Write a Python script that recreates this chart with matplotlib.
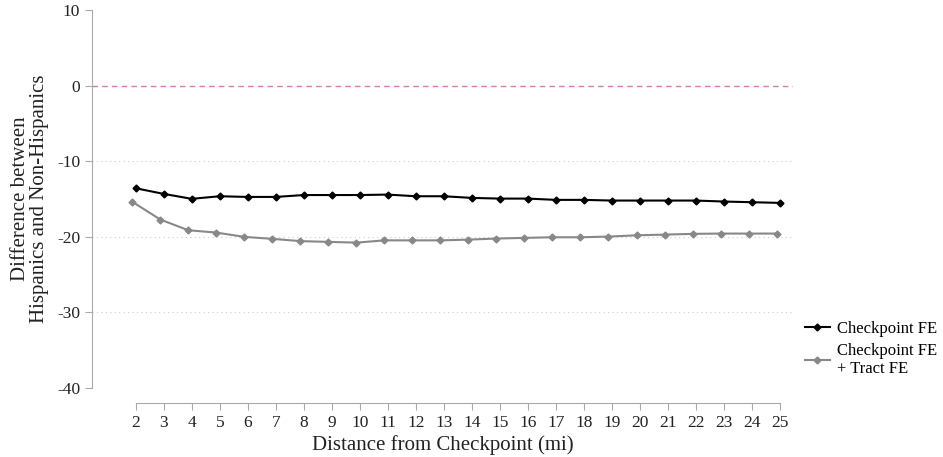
import matplotlib.pyplot as plt

plt.rcParams['font.family'] = ['Liberation Serif', 'DejaVu Serif']
plt.rcParams['axes.unicode_minus'] = False

distance = list(range(2, 26))
checkpoint_fe = [-13.6, -14.35, -15.0, -14.66, -14.75, -14.75, -14.5, -14.5, -14.5, -14.44,
                 -14.66, -14.66, -14.88, -14.97, -14.97, -15.14, -15.14, -15.23, -15.23,
                 -15.23, -15.23, -15.36, -15.45, -15.54]
tract_fe = [-15.4, -17.75, -19.16, -19.47, -20.04, -20.3, -20.6, -20.7, -20.8, -20.5,
            -20.5, -20.5, -20.4, -20.26, -20.17, -20.09, -20.09, -20.0, -19.83, -19.74,
            -19.64, -19.6, -19.6, -19.6]

fig = plt.figure(figsize=(9.43, 4.57), dpi=100)
ax = fig.add_axes([0.0976, 0.1517, 0.7434, 0.8265])

for y in [-10, -20, -30]:
    ax.axhline(y, color='#cccccc', linestyle=(0, (1, 3)), linewidth=0.8, zorder=1)
ax.axhline(0, color='#d67cb0', linestyle=(0, (4, 3)), linewidth=1.0, zorder=1)

ax.plot(distance, checkpoint_fe, color='black', linewidth=1.5, marker='D', markersize=3.5,
        label='Checkpoint FE', zorder=3)
ax.plot([d - 0.12 for d in distance], tract_fe, color='#888888', linewidth=1.5, marker='D',
        markersize=3.5, label='Checkpoint FE\n+ Tract FE', zorder=2)

ax.set_xlim(0.44, 25.47)
ax.set_ylim(-40, 10)
ax.set_xticks(distance)
ax.set_yticks([10, 0, -10, -20, -30, -40])

for s in ['top', 'right']:
    ax.spines[s].set_visible(False)
ax.spines['left'].set_color('#aaaaaa')
ax.spines['bottom'].set_color('#aaaaaa')
ax.spines['bottom'].set_position(('outward', 11))
ax.spines['bottom'].set_bounds(2, 25)
ax.tick_params(colors='#aaaaaa', labelcolor='#222222', labelsize=12.5, length=5)

ax.set_xlabel('Distance from Checkpoint (mi)', fontsize=15, color='#222222', labelpad=3)
ax.set_ylabel('Difference between\nHispanics and Non-Hispanics', fontsize=15, color='#222222',
              labelpad=6, linespacing=1.0)

fig.legend(loc='upper left', bbox_to_anchor=(0.8536, 0.298), frameon=False, fontsize=12,
           handlelength=1.5, handletextpad=0.45, labelspacing=0.35, borderpad=0,
           borderaxespad=0)

plt.savefig('out.png', dpi=100)
